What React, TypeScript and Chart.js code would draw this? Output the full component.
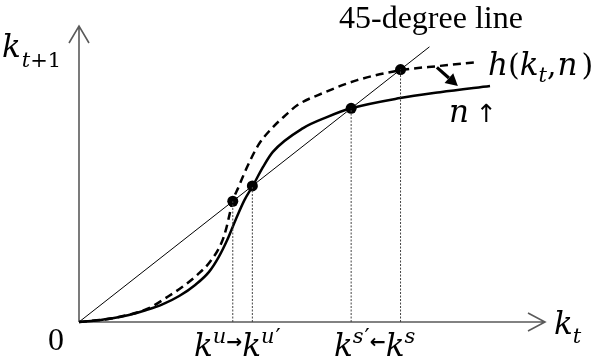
import React, { useEffect, useRef } from "react";
import { Chart, registerables } from "chart.js";

Chart.register(...registerables);

// Axis ranges (data units: 45-degree line is y = x)
const X_MAX = 10;
const Y_MAX = 8.09;

// h(k_t, n) — original (dashed) curve
const hX = [0, 0.71, 1.5, 1.89, 2.23, 2.55, 2.82, 3.06, 3.15, 3.22, 3.3, 3.42, 3.62, 3.85, 4.12, 4.44, 4.69, 5.24, 5.97, 6.9, 7.75, 8.54];
const hY = [0, 0.1, 0.38, 0.68, 0.97, 1.3, 1.66, 2.17, 2.51, 2.88, 3.31, 3.68, 4.27, 4.84, 5.27, 5.66, 5.93, 6.26, 6.61, 6.88, 7.0, 7.1];

// h after n increases (solid curve)
const sX = [0, 0.36, 0.72, 1.07, 1.43, 1.79, 2.15, 2.5, 2.79, 3.0, 3.18, 3.36, 3.55, 3.72, 3.95, 4.16, 4.81, 5.32, 5.84, 6.89, 7.75, 8.82];
const sY = [0, 0.04, 0.1, 0.19, 0.32, 0.48, 0.71, 1.02, 1.37, 1.78, 2.24, 2.79, 3.33, 3.7, 4.24, 4.65, 5.3, 5.6, 5.84, 6.12, 6.28, 6.45];

// 45-degree line
const diagX = [0, 7.52];
const diagY = [0, 7.52];

// equilibria: k^u, k^u', k^s', k^s
const eqNames = ["ku", "ku'", "ks'", "ks"];
const eqK = [3.3, 3.72, 5.84, 6.9];

// arrow showing the shift of the curve (from, to)
const shiftArrowX = [7.68, 8.13];
const shiftArrowY = [6.96, 6.45];

const toPts = (xs: number[], ys: number[]) => xs.map((x, i) => ({ x, y: ys[i] }));

type Seg = { t: string; font: string; dy?: number; gap?: number };

function drawRich(ctx: CanvasRenderingContext2D, x: number, y: number, segs: Seg[]) {
  let cx = x;
  for (const s of segs) {
    ctx.font = s.font;
    ctx.fillText(s.t, cx, y + (s.dy || 0));
    cx += ctx.measureText(s.t).width + (s.gap || 0);
  }
}

const MI = 'italic 31px "DejaVu Serif"';
const SI = 'italic 21px "DejaVu Serif"';
const SU = '23px "DejaVu Serif"';
const MU = '30px "DejaVu Serif"';

const decoPlugin = {
  id: "deco",
  beforeDatasetsDraw(chart: any) {
    const { ctx, chartArea } = chart;
    const { left, right, top, bottom } = chartArea;
    ctx.save();
    ctx.strokeStyle = "#5a5a5a";
    ctx.lineWidth = 1.6;
    // x axis
    ctx.beginPath();
    ctx.moveTo(left, bottom);
    ctx.lineTo(right, bottom);
    ctx.moveTo(right - 17, bottom - 9);
    ctx.lineTo(right, bottom);
    ctx.lineTo(right - 17, bottom + 9);
    // y axis
    ctx.moveTo(left, bottom);
    ctx.lineTo(left, top);
    ctx.moveTo(left - 10, top + 17);
    ctx.lineTo(left, top);
    ctx.lineTo(left + 10, top + 17);
    ctx.stroke();
    ctx.restore();
  },
  afterDatasetsDraw(chart: any) {
    const { ctx, scales } = chart;
    const xs = scales.x;
    const ys = scales.y;
    ctx.save();
    // shift arrow
    const x1 = xs.getPixelForValue(shiftArrowX[0]);
    const y1 = ys.getPixelForValue(shiftArrowY[0]);
    const x2 = xs.getPixelForValue(shiftArrowX[1]);
    const y2 = ys.getPixelForValue(shiftArrowY[1]);
    const ang = Math.atan2(y2 - y1, x2 - x1);
    const hl = 12;
    const hw = 6.5;
    ctx.strokeStyle = "#000";
    ctx.fillStyle = "#000";
    ctx.lineWidth = 3.2;
    ctx.beginPath();
    ctx.moveTo(x1, y1);
    ctx.lineTo(x2 - hl * Math.cos(ang), y2 - hl * Math.sin(ang));
    ctx.stroke();
    ctx.beginPath();
    ctx.moveTo(x2, y2);
    ctx.lineTo(x2 - hl * Math.cos(ang) - hw * Math.sin(ang), y2 - hl * Math.sin(ang) + hw * Math.cos(ang));
    ctx.lineTo(x2 - hl * Math.cos(ang) + hw * Math.sin(ang), y2 - hl * Math.sin(ang) - hw * Math.cos(ang));
    ctx.closePath();
    ctx.fill();

    // texts
    ctx.fillStyle = "#000";
    ctx.textBaseline = "alphabetic";
    ctx.textAlign = "left";
    drawRich(ctx, 2, 57, [
      { t: "k", font: MI, gap: 1 },
      { t: "t", font: 'italic 21px "DejaVu Serif"', dy: 10 },
      { t: "+1", font: '21px "DejaVu Serif"', dy: 10 },
    ]);
    ctx.font = '32px "Liberation Serif"';
    ctx.fillText("45-degree line", 339, 28);
    ctx.fillText("0", 48, 350);
    drawRich(ctx, 488, 75, [
      { t: "h", font: MI },
      { t: "(", font: MU },
      { t: "k", font: MI },
      { t: "t", font: SI, dy: 7 },
      { t: ",", font: MU, gap: 1 },
      { t: "n", font: MI, gap: 4 },
      { t: ")", font: MU },
    ]);
    drawRich(ctx, 449, 122, [
      { t: "n", font: MI, gap: 7 },
      { t: "↑", font: '25px "DejaVu Sans"' },
    ]);
    // bottom labels
    drawRich(ctx, 194, 356, [
      { t: "k", font: MI },
      { t: "u", font: SI, dy: -13 },
      { t: "→", font: 'bold 19px "DejaVu Sans"', dy: -8 },
      { t: "k", font: MI },
      { t: "u", font: SI, dy: -13, gap: 1 },
      { t: "′", font: SU, dy: -12 },
    ]);
    drawRich(ctx, 334, 356, [
      { t: "k", font: MI },
      { t: "s", font: SI, dy: -13, gap: 1 },
      { t: "′", font: SU, dy: -12 },
      { t: "←", font: 'bold 19px "DejaVu Sans"', dy: -8 },
      { t: "k", font: MI },
      { t: "s", font: SI, dy: -13 },
    ]);
    drawRich(ctx, 554, 334, [
      { t: "k", font: MI },
      { t: "t", font: SI, dy: 9 },
    ]);
    ctx.restore();
  },
};

export default function App() {
  const ref = useRef<HTMLCanvasElement | null>(null);
  useEffect(() => {
    document.body.style.margin = "0";
    const canvas = ref.current;
    if (!canvas) return;
    const dotted = eqK.map((k, i) => ({
      label: "drop " + eqNames[i],
      data: [
        { x: k, y: 0 },
        { x: k, y: k },
      ],
      showLine: true,
      borderColor: "#444",
      borderWidth: 1,
      borderDash: [2, 1.5],
      pointRadius: 0,
      clip: false as any,
    }));
    const chart = new Chart(canvas, {
      type: "scatter",
      data: {
        datasets: [
          ...dotted,
          {
            label: "45-degree line",
            data: toPts(diagX, diagY),
            showLine: true,
            borderColor: "#000",
            borderWidth: 1,
            pointRadius: 0,
          },
          {
            label: "h(kt, n)",
            data: toPts(hX, hY),
            showLine: true,
            borderColor: "#000",
            borderWidth: 2.5,
            borderDash: [8, 5],
            cubicInterpolationMode: "monotone",
            pointRadius: 0,
            clip: false as any,
          },
          {
            label: "h after n up",
            data: toPts(sX, sY),
            showLine: true,
            borderColor: "#000",
            borderWidth: 2.5,
            cubicInterpolationMode: "monotone",
            pointRadius: 0,
            clip: false as any,
          },
          {
            label: "equilibria",
            data: eqK.map((k) => ({ x: k, y: k })),
            showLine: false,
            pointRadius: 5.5,
            pointBackgroundColor: "#000",
            pointBorderColor: "#000",
            pointBorderWidth: 0,
            clip: false as any,
          },
        ],
      },
      options: {
        animation: false,
        responsive: false,
        maintainAspectRatio: false,
        layout: { padding: { left: 79, right: 55, top: 26, bottom: 41 } },
        plugins: { legend: { display: false }, tooltip: { enabled: false } },
        scales: {
          x: { type: "linear", min: 0, max: X_MAX, display: false },
          y: { type: "linear", min: 0, max: Y_MAX, display: false },
        },
      },
      plugins: [decoPlugin],
    });
    return () => chart.destroy();
  }, []);
  return <canvas ref={ref} width={600} height={363} style={{ display: "block" }} />;
}
